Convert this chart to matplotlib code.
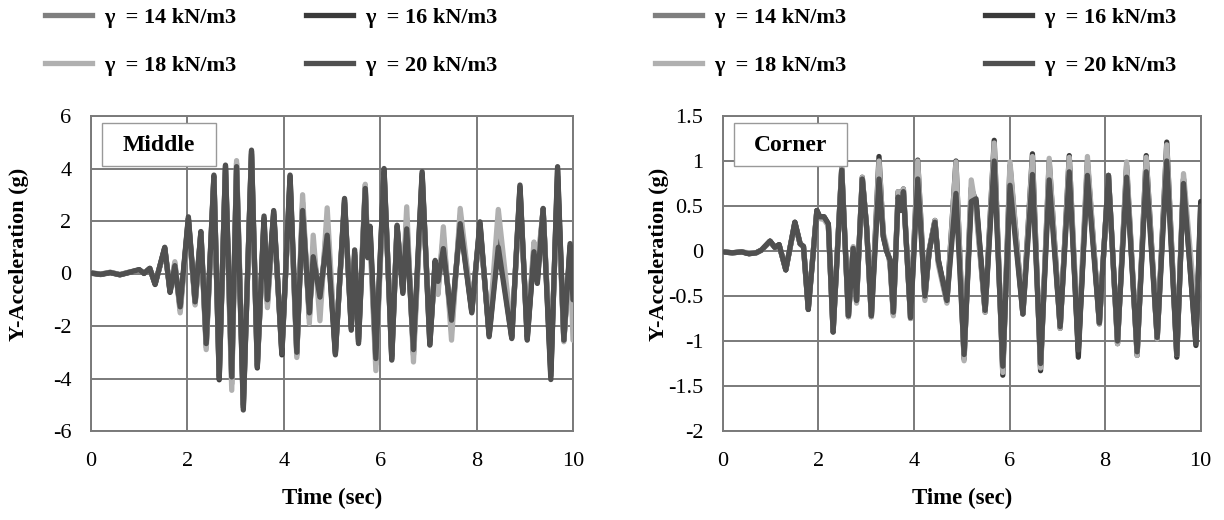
#!/usr/bin/env python3
"""
Y-acceleration time histories at the middle and corner points
for four soil unit weights (gamma = 14, 16, 18, 20 kN/m3).
Values are the peaks/troughs read off the reference figure.
"""
import matplotlib
matplotlib.use("Agg")
import matplotlib.pyplot as plt
from matplotlib.patches import Rectangle
from matplotlib.lines import Line2D

# ---- Middle point --------------------------------------------------------
t_mid = [0.00, 0.20, 0.40, 0.60, 0.80, 1.00, 1.10, 1.22, 1.33, 1.53,
         1.64, 1.74, 1.85, 2.02, 2.16, 2.28, 2.39, 2.55, 2.66, 2.79,
         2.92, 3.02, 3.16, 3.33, 3.45, 3.59, 3.66, 3.79, 3.96, 4.13,
         4.27, 4.39, 4.53, 4.61, 4.75, 4.90, 5.07, 5.26, 5.40, 5.47,
         5.55, 5.69, 5.74, 5.79, 5.91, 6.08, 6.24, 6.35, 6.47, 6.55,
         6.69, 6.87, 7.03, 7.14, 7.20, 7.31, 7.48, 7.66, 7.90, 8.07,
         8.26, 8.45, 8.73, 8.90, 9.05, 9.19, 9.26, 9.38, 9.54, 9.68,
         9.81, 9.94, 10.00]
mid_14 = [0.02, -0.03, 0.04, -0.04, 0.05, 0.13, 0.01, 0.19, -0.38, 0.95,
          -0.65, 0.38, -1.40, 2.08, -1.15, 1.55, -2.80, 3.65, -3.90, 4.00,
          -4.20, 4.20, -5.00, 4.55, -3.50, 2.00, -1.15, 2.25, -2.95, 3.50,
          -3.10, 2.70, -1.70, 1.00, -1.30, 2.00, -3.00, 2.70, -2.00, 0.70,
          -2.50, 3.30, 0.80, 1.50, -3.45, 3.85, -3.15, 1.75, -0.60, 2.10,
          -3.10, 3.70, -2.55, 0.35, -0.55, 1.40, -2.15, 2.20, -1.40, 1.80,
          -2.30, 1.70, -2.40, 3.20, -2.40, 1.00, 0.00, 2.45, -3.70, 3.70,
          -2.55, 0.95, -1.80]
mid_16 = [0.01, -0.04, 0.03, -0.05, 0.04, 0.14, 0.01, 0.19, -0.42, 0.98,
          -0.72, 0.28, -1.30, 2.10, -1.10, 1.58, -2.70, 3.70, -4.05, 4.10,
          -4.00, 4.00, -5.10, 4.65, -3.60, 2.10, -1.05, 2.35, -3.10, 3.70,
          -3.05, 2.50, -1.60, 0.80, -1.00, 1.60, -3.05, 2.80, -2.10, 0.80,
          -2.60, 3.20, 0.70, 1.70, -3.30, 3.95, -3.25, 1.80, -0.70, 1.90,
          -3.00, 3.80, -2.70, 0.45, -0.40, 1.10, -1.90, 2.00, -1.45, 1.90,
          -2.35, 1.30, -2.45, 3.30, -2.50, 0.90, -0.30, 2.45, -3.90, 3.95,
          -2.55, 1.05, -1.20]
mid_18 = [0.03, -0.02, 0.05, -0.04, 0.06, 0.12, 0.02, 0.18, -0.35, 0.90,
          -0.60, 0.45, -1.50, 2.00, -1.20, 1.50, -2.90, 3.60, -3.80, 3.90,
          -4.45, 4.30, -4.90, 4.40, -3.40, 1.80, -1.30, 2.10, -2.80, 3.30,
          -3.20, 3.00, -1.90, 1.46, -1.80, 2.50, -2.90, 2.60, -1.90, 0.60,
          -2.40, 3.40, 1.00, 1.20, -3.70, 3.70, -3.00, 1.70, -0.50, 2.54,
          -3.37, 3.60, -2.40, 0.20, -0.80, 1.78, -2.54, 2.48, -1.30, 1.70,
          -2.20, 2.44, -2.30, 3.00, -2.30, 1.20, 0.30, 2.40, -3.40, 3.30,
          -2.60, 0.80, -2.54]
mid_20 = [0.02, -0.03, 0.04, -0.05, 0.05, 0.15, 0.00, 0.20, -0.40, 1.00,
          -0.70, 0.30, -1.27, 2.16, -1.08, 1.60, -2.67, 3.75, -4.00, 4.13,
          -3.94, 4.07, -5.20, 4.70, -3.56, 2.19, -1.00, 2.40, -3.05, 3.75,
          -3.00, 2.40, -1.50, 0.64, -0.90, 1.46, -3.10, 2.86, -2.16, 0.90,
          -2.67, 3.24, 0.60, 1.80, -3.24, 4.00, -3.30, 1.84, -0.76, 1.70,
          -2.90, 3.88, -2.73, 0.50, -0.30, 0.95, -1.78, 1.90, -1.50, 1.97,
          -2.41, 1.00, -2.48, 3.37, -2.54, 0.83, -0.38, 2.48, -4.04, 4.07,
          -2.54, 1.14, -1.00]

# ---- Corner point --------------------------------------------------------
t_cor = [0.00, 0.20, 0.40, 0.55, 0.70, 0.81, 0.99, 1.09, 1.18, 1.32,
         1.51, 1.62, 1.69, 1.79, 1.97, 2.03, 2.12, 2.21, 2.31, 2.49,
         2.63, 2.73, 2.80, 2.92, 3.01, 3.11, 3.27, 3.36, 3.43, 3.50,
         3.57, 3.67, 3.74, 3.78, 3.93, 4.08, 4.23, 4.32, 4.44, 4.51,
         4.69, 4.88, 5.05, 5.20, 5.30, 5.49, 5.68, 5.86, 6.01, 6.28,
         6.48, 6.65, 6.83, 7.06, 7.25, 7.44, 7.63, 7.88, 8.07, 8.26,
         8.45, 8.67, 8.86, 9.09, 9.29, 9.50, 9.64, 9.90, 10.00]
cor_14 = [-0.01, -0.02, -0.01, -0.03, -0.02, 0.01, 0.11, 0.04, 0.07, -0.21,
          0.31, 0.08, 0.05, -0.64, 0.45, 0.37, 0.37, 0.29, -0.89, 0.91,
          -0.72, 0.04, -0.56, 0.81, 0.26, -0.72, 0.92, 0.18, 0.02, -0.12,
          -0.70, 0.63, 0.47, 0.67, -0.74, 0.90, -0.52, 0.01, 0.33, -0.12,
          -0.56, 0.80, -1.18, 0.67, 0.50, -0.67, 1.10, -1.32, 0.85, -0.70,
          0.96, -1.28, 0.90, -0.85, 0.97, -1.12, 0.95, -0.80, 0.84, -1.01,
          0.90, -1.14, 0.97, -0.97, 1.10, -1.16, 0.80, -0.90, 0.30]
cor_16 = [-0.01, -0.02, -0.01, -0.03, -0.02, 0.01, 0.11, 0.04, 0.07, -0.21,
          0.32, 0.08, 0.05, -0.65, 0.45, 0.38, 0.38, 0.30, -0.90, 0.92,
          -0.73, 0.03, -0.55, 0.82, 0.27, -0.73, 1.05, 0.16, 0.00, -0.10,
          -0.70, 0.66, 0.45, 0.69, -0.75, 1.01, -0.52, 0.00, 0.34, -0.10,
          -0.56, 1.00, -1.20, 0.70, 0.55, -0.68, 1.23, -1.38, 0.95, -0.70,
          1.08, -1.33, 1.00, -0.86, 1.06, -1.18, 1.00, -0.81, 0.84, -1.03,
          0.95, -1.16, 1.06, -0.98, 1.21, -1.18, 0.80, -1.05, 0.55]
cor_18 = [-0.01, -0.02, -0.01, -0.02, -0.02, 0.01, 0.10, 0.04, 0.06, -0.20,
          0.30, 0.08, 0.04, -0.62, 0.44, 0.36, 0.35, 0.28, -0.88, 0.92,
          -0.73, 0.05, -0.58, 0.82, 0.25, -0.73, 1.00, 0.20, 0.05, -0.15,
          -0.72, 0.66, 0.50, 0.69, -0.75, 1.00, -0.55, 0.02, 0.34, -0.15,
          -0.58, 0.99, -1.22, 0.79, 0.45, -0.68, 1.20, -1.35, 0.99, -0.70,
          1.05, -1.30, 1.03, -0.86, 1.04, -1.02, 1.05, -0.81, 0.84, -1.03,
          0.99, -1.16, 1.04, -0.98, 1.18, -1.15, 0.86, -0.73, 0.00]
cor_20 = [-0.01, -0.02, -0.01, -0.03, -0.02, 0.01, 0.11, 0.04, 0.07, -0.21,
          0.32, 0.08, 0.05, -0.65, 0.45, 0.38, 0.38, 0.30, -0.90, 0.90,
          -0.72, 0.03, -0.55, 0.80, 0.27, -0.72, 0.80, 0.16, 0.00, -0.10,
          -0.68, 0.60, 0.45, 0.66, -0.74, 0.80, -0.50, 0.00, 0.32, -0.10,
          -0.55, 0.64, -1.15, 0.55, 0.58, -0.66, 1.00, -1.28, 0.73, -0.70,
          0.85, -1.25, 0.79, -0.84, 0.88, -1.10, 0.84, -0.80, 0.84, -1.00,
          0.82, -1.12, 0.88, -0.96, 1.00, -1.15, 0.75, -1.03, 0.50]

gammas = [14, 16, 18, 20]
colors = {14: "#7f7f7f", 16: "#3a3a3a", 18: "#b0b0b0", 20: "#505050"}
grid_c = "#7a7a7a"
LW = 3.8

plt.rcParams["font.family"] = ["Liberation Serif", "DejaVu Serif"]

fig = plt.figure(figsize=(12.24, 5.20), dpi=100)
ax_m = fig.add_axes([91 / 1224, 89 / 520, 482 / 1224, 315 / 520])
ax_c = fig.add_axes([722.7 / 1224, 89 / 520, 478 / 1224, 315 / 520])

# (axes, time, series, y-limits, y-ticks, tag, legend column x positions, ylabel x)
panels = [
    (ax_m, t_mid, {14: mid_14, 16: mid_16, 18: mid_18, 20: mid_20},
     (-6, 6), [-6, -4, -2, 0, 2, 4, 6], "Middle", (45, 306), -0.128),
    (ax_c, t_cor, {14: cor_14, 16: cor_16, 18: cor_18, 20: cor_20},
     (-2, 1.5), [-2, -1.5, -1, -0.5, 0, 0.5, 1, 1.5], "Corner", (655, 985),
     -0.112),
]

for ax, t, series, ylim, yticks, tag, leg_cols, ylab_x in panels:
    for g in gammas:
        ax.plot(t, series[g], color=colors[g], lw=LW,
                solid_joinstyle="round", solid_capstyle="round", zorder=3)
    ax.set_xlim(0, 10)
    ax.set_ylim(*ylim)
    ax.set_xticks([0, 2, 4, 6, 8, 10])
    ax.set_yticks(yticks)
    ax.set_yticklabels([f"{v:g}" for v in yticks])
    ax.grid(True, color=grid_c, lw=1.4)
    ax.set_axisbelow(True)
    for sp in ax.spines.values():
        sp.set_color(grid_c)
        sp.set_linewidth(1.4)
    ax.tick_params(length=0, labelsize=16)
    ax.tick_params(axis="x", pad=15)
    ax.tick_params(axis="y", pad=14)
    ax.set_xlabel("Time (sec)", fontsize=16.5, fontweight="bold", labelpad=12)
    ax.set_ylabel("Y-Acceleration (g)", fontsize=16, fontweight="bold")
    ax.yaxis.set_label_coords(ylab_x, 0.562)

    # label box in the upper-left corner
    ax.add_patch(Rectangle((0.023, 0.84), 0.237, 0.138, transform=ax.transAxes,
                           fc="white", ec="#999999", lw=1.0, zorder=5))
    ax.text(0.1415, 0.906, tag, transform=ax.transAxes, ha="center",
            va="center", fontsize=17, fontweight="bold", zorder=6)

    # two-column legend above the panel, one legend per column
    for col_x, pair in zip(leg_cols, [(14, 18), (16, 20)]):
        handles = [Line2D([], [], color=colors[g], lw=LW) for g in pair]
        labels = [f"\u03b3  = {g} kN/m3" for g in pair]
        fig.legend(handles, labels, loc="upper left",
                   bbox_to_anchor=(col_x / 1224, 1 - 7 / 520), frameon=False,
                   prop={"weight": "bold", "size": 16}, handlelength=2.1,
                   handletextpad=0.55, labelspacing=1.25,
                   borderpad=0, borderaxespad=0)

fig.savefig("out.png", dpi=100)
